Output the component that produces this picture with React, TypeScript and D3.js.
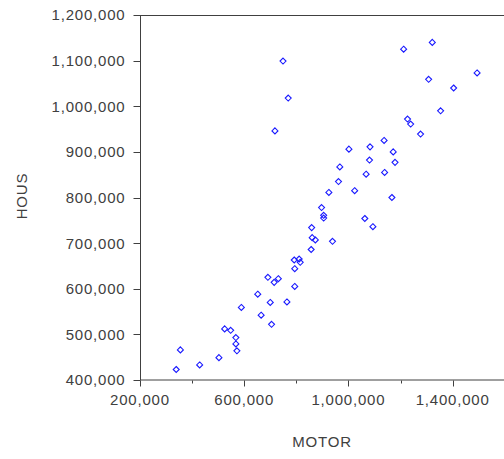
import React, { useEffect, useRef } from "react";
import * as d3 from "d3";

// MOTOR (x) and HOUS (y) values
const motor = [
  749000, 769000, 718000, 967000, 962000, 925000, 1322000, 1212000, 1494000, 1308000,
  1404000, 1354000, 1227000, 1239000, 1277000, 1137000, 1002000, 1083000, 1172000, 1081000,
  1179000, 1068000, 1139000, 1024000, 1167000, 897000, 905000, 905000, 1063000, 1094000,
  859000, 861000, 873000, 939000, 857000, 792000, 811000, 815000, 794000, 691000,
  731000, 715000, 794000, 652000, 700000, 764000, 589000, 665000, 705000, 525000,
  548000, 568000, 568000, 572000, 355000, 503000, 429000, 339000,
];
const hous = [
  1099000, 1018000, 946000, 867000, 835000, 811000, 1140000, 1125000, 1073000, 1059000,
  1040000, 990000, 972000, 961000, 939000, 925000, 906000, 911000, 900000, 882000,
  877000, 851000, 855000, 815000, 800000, 778000, 761000, 755000, 754000, 736000,
  734000, 712000, 707000, 704000, 686000, 663000, 665000, 658000, 644000, 625000,
  622000, 614000, 605000, 588000, 570000, 571000, 559000, 542000, 522000, 512000,
  509000, 493000, 479000, 464000, 466000, 449000, 433000, 423000,
];
const xMajor = [200000, 600000, 1000000, 1400000];
const xMinor = [400000, 800000, 1200000];
const yTicks = [400000, 500000, 600000, 700000, 800000, 900000, 1000000, 1100000, 1200000];

const W = 504;
const H = 459;
const ink = "#404040";

export default function App() {
  const ref = useRef<SVGSVGElement>(null);

  useEffect(() => {
    const svg = d3.select(ref.current);
    svg.selectAll("*").remove();

    const x = d3.scaleLinear().domain([200000, 1600000]).range([140, 504.7]);
    const y = d3.scaleLinear().domain([400000, 1200000]).range([380, 15]);
    const fmt = d3.format(",");

    // frame
    svg.append("rect")
      .attr("x", 140.5).attr("y", 15.5)
      .attr("width", 364.2).attr("height", 364.5)
      .attr("fill", "none").attr("stroke", ink);

    // y axis
    const ya = svg.append("g").attr("transform", "translate(140.5,0)");
    ya.selectAll("line").data(yTicks).join("line")
      .attr("x1", -7).attr("x2", 0)
      .attr("y1", d => Math.round(y(d)) + 0.5).attr("y2", d => Math.round(y(d)) + 0.5)
      .attr("stroke", ink);
    ya.selectAll("text").data(yTicks).join("text")
      .attr("x", -15).attr("y", d => y(d))
      .attr("dy", "0.36em")
      .attr("text-anchor", "end")
      .text(d => fmt(d));

    // x axis
    const xa = svg.append("g").attr("transform", "translate(0,380.5)");
    xa.selectAll("line.major").data(xMajor).join("line")
      .attr("class", "major")
      .attr("x1", d => Math.round(x(d)) + 0.5).attr("x2", d => Math.round(x(d)) + 0.5)
      .attr("y1", 0).attr("y2", 6)
      .attr("stroke", ink);
    xa.selectAll("line.minor").data(xMinor).join("line")
      .attr("class", "minor")
      .attr("x1", d => Math.round(x(d)) + 0.5).attr("x2", d => Math.round(x(d)) + 0.5)
      .attr("y1", 0).attr("y2", 3)
      .attr("stroke", ink);
    xa.selectAll("text").data(xMajor).join("text")
      .attr("x", d => x(d)).attr("y", 24)
      .attr("text-anchor", "middle")
      .text(d => fmt(d));

    // titles
    svg.append("text")
      .attr("x", 322).attr("y", 447)
      .attr("text-anchor", "middle")
      .text("MOTOR");
    svg.append("text")
      .attr("transform", "translate(27,196) rotate(-90)")
      .attr("text-anchor", "middle")
      .text("HOUS");

    // points
    const s = 3;
    svg.append("g")
      .selectAll("path")
      .data(d3.range(motor.length))
      .join("path")
      .attr("d", i => {
        const cx = x(motor[i]);
        const cy = y(hous[i]);
        return `M${cx},${cy - s}L${cx + s},${cy}L${cx},${cy + s}L${cx - s},${cy}Z`;
      })
      .attr("fill", "none")
      .attr("stroke", "#1a1aff")
      .attr("stroke-width", 1.1);
  }, []);

  return (
    <svg
      ref={ref}
      width={W}
      height={H}
      style={{
        position: "absolute", left: 0, top: 0, background: "#fff",
        fontFamily: "Arial, 'Liberation Sans', sans-serif", fontSize: 15,
        letterSpacing: 0.8, fill: ink,
      }}
    />
  );
}
